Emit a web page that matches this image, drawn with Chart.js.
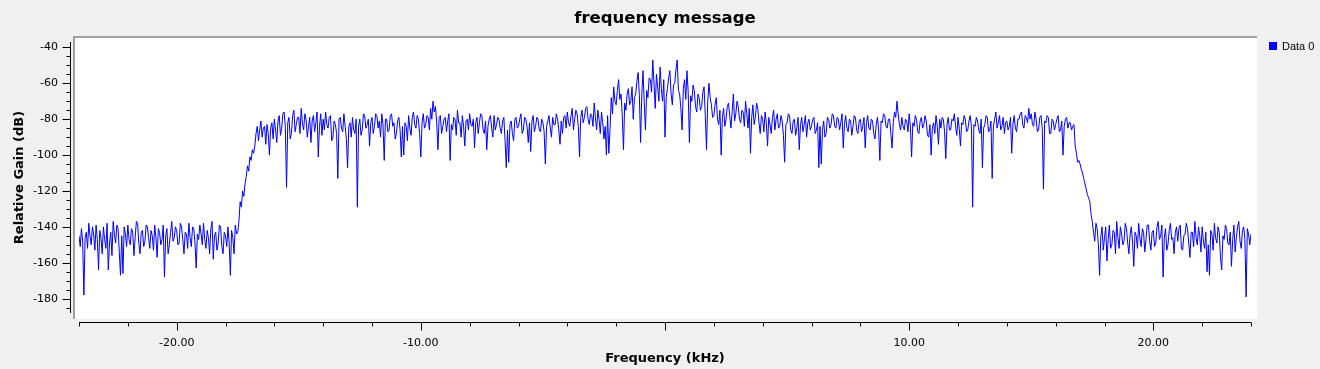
<!DOCTYPE html>
<html>
<head>
<meta charset="utf-8">
<title>frequency message</title>
<script src="https://cdn.jsdelivr.net/npm/chart.js@4.4.1/dist/chart.umd.min.js"></script>
<style>
  html, body { margin: 0; padding: 0; background: #f0f0f0; }
  #myChart { display: block; }
</style>
</head>
<body>
<canvas id="myChart" width="1320" height="369"></canvas>
<script>
'use strict';

// ====================== DATA ======================//
let chartTitle = 'frequency message';
let seriesName = 'Data 0';
let xAxisTitle = 'Frequency (kHz)';
let yAxisTitle = 'Relative Gain (dB)';

// frequency bins, kHz
let freqStartKHz = -24;
let freqStepKHz = 0.05;

// gain in dB, one value per 0.05 kHz
// -24.00 .. -17.05 kHz
let gainLowStop = [
  -145, -151, -141, -148, -178, -146, -143, -152, -138, -145, -150, -140, -144, -153, -139, -147, -164, -142, -146, -155,
  -140, -147, -152, -138, -164, -149, -143, -156, -137, -144, -149, -139, -141, -154, -167, -145, -166, -140, -144, -151,
  -139, -147, -150, -141, -143, -156, -146, -137, -138, -149, -155, -143, -142, -151, -148, -139, -140, -146, -152, -142,
  -145, -153, -139, -146, -157, -141, -143, -150, -147, -139, -168, -145, -141, -155, -150, -143, -137, -148, -146, -140,
  -142, -150, -149, -138, -140, -147, -155, -143, -144, -152, -138, -146, -151, -140, -141, -149, -163, -144, -147, -139,
  -144, -150, -138, -147, -152, -142, -146, -155, -141, -137, -158, -145, -143, -153, -149, -139, -140, -151, -155, -143,
  -145, -151, -140, -149, -167, -142, -146, -155, -139, -144, -143, -137, -126, -129, -120, -123, -116, -112, -106, -109
];
// -17.00 .. -2.05 kHz
let gainLowBand = [
  -101, -103, -97, -99, -95, -88, -84, -92, -86, -81, -90, -85, -84, -94, -83, -88, -100, -85, -82, -91,
  -80, -86, -93, -81, -78, -89, -85, -77, -76, -84, -118, -82, -79, -91, -88, -78, -75, -87, -83, -79,
  -79, -88, -74, -82, -86, -77, -80, -90, -84, -79, -93, -81, -78, -87, -82, -76, -101, -84, -77, -89,
  -80, -86, -76, -83, -85, -79, -78, -92, -90, -81, -83, -88, -113, -80, -79, -85, -87, -77, -84, -91,
  -107, -84, -82, -90, -79, -86, -88, -80, -129, -84, -80, -89, -86, -77, -78, -85, -83, -80, -95, -82,
  -79, -88, -84, -77, -78, -85, -81, -90, -77, -83, -103, -80, -80, -87, -86, -78, -77, -84, -82, -91,
  -88, -81, -79, -86, -101, -84, -100, -82, -84, -92, -78, -85, -89, -79, -76, -83, -85, -78, -80, -88,
  -101, -82, -77, -85, -83, -78, -79, -86, -74, -80, -70, -76, -73, -82, -97, -79, -78, -88, -84, -80,
  -79, -87, -81, -77, -103, -83, -86, -79, -80, -89, -75, -82, -82, -90, -78, -84, -95, -81, -80, -86,
  -77, -83, -84, -80, -96, -82, -79, -88, -82, -77, -78, -86, -88, -81, -97, -84, -80, -78, -85, -90,
  -78, -86, -83, -79, -80, -85, -88, -81, -79, -92, -107, -86, -104, -83, -81, -88, -92, -80, -79, -85,
  -84, -80, -77, -88, -86, -79, -80, -84, -93, -82, -98, -81, -78, -87, -84, -79, -80, -86, -87, -80,
  -82, -87, -105, -84, -81, -78, -85, -90, -79, -83, -83, -77, -80, -86, -94, -81, -88, -79, -78, -85,
  -76, -82, -84, -78, -74, -86, -80, -75, -77, -84, -101, -79, -75, -82, -79, -74, -73, -80, -83, -77,
  -78, -84, -71, -79, -86, -75, -80, -88, -76, -82, -91, -84, -100, -78, -99, -85, -68, -77, -62, -70
];
// -2.00 .. 1.95 kHz
let gainCentre = [
  -72, -64, -58, -69, -66, -78, -97, -71, -75, -66, -63, -72, -70, -62, -80, -68, -66, -59, -54, -67,
  -93, -66, -53, -71, -86, -64, -68, -57, -58, -65, -47, -60, -74, -55, -62, -70, -51, -63, -70, -58,
  -90, -68, -63, -57, -53, -66, -72, -61, -60, -52, -47, -64, -66, -74, -86, -63, -58, -69, -53, -65,
  -93, -67, -70, -61, -64, -73, -76, -66, -68, -75, -73, -65, -62, -78, -97, -70, -60, -68, -72, -79
];
// 2.00 .. 16.95 kHz
let gainHighBand = [
  -78, -72, -68, -80, -83, -75, -100, -79, -74, -84, -80, -73, -71, -78, -85, -76, -66, -81, -77, -70,
  -73, -80, -82, -75, -76, -84, -70, -77, -85, -74, -99, -79, -72, -83, -79, -71, -74, -82, -88, -78,
  -80, -87, -76, -82, -95, -79, -83, -88, -79, -75, -86, -80, -77, -85, -84, -78, -81, -89, -104, -83,
  -82, -77, -78, -86, -88, -81, -80, -89, -85, -79, -97, -83, -79, -87, -83, -78, -90, -82, -80, -86,
  -84, -80, -79, -88, -86, -82, -107, -84, -105, -86, -81, -90, -88, -79, -80, -85, -83, -77, -78, -84,
  -85, -79, -80, -86, -82, -77, -96, -83, -78, -85, -87, -80, -81, -89, -84, -78, -79, -86, -88, -81,
  -80, -87, -84, -79, -96, -82, -78, -85, -86, -80, -81, -88, -91, -83, -79, -86, -103, -81, -82, -77,
  -78, -84, -85, -80, -80, -88, -96, -82, -76, -79, -70, -77, -83, -86, -79, -84, -86, -80, -81, -87,
  -77, -84, -101, -82, -84, -78, -80, -87, -88, -81, -79, -85, -83, -78, -81, -89, -90, -83, -100, -85,
  -82, -88, -78, -84, -94, -80, -85, -79, -80, -87, -102, -83, -79, -86, -86, -80, -81, -77, -84, -89,
  -79, -85, -95, -82, -83, -78, -80, -87, -86, -81, -78, -84, -129, -83, -84, -79, -81, -86, -88, -80,
  -107, -85, -83, -78, -79, -87, -86, -81, -113, -84, -80, -76, -85, -82, -78, -86, -84, -79, -88, -82,
  -81, -86, -84, -79, -99, -83, -78, -85, -87, -80, -80, -77, -76, -83, -85, -78, -79, -82, -74, -80,
  -77, -83, -84, -76, -80, -87, -86, -79, -78, -85, -119, -81, -82, -78, -79, -88, -88, -80, -81, -86,
  -83, -80, -78, -87, -86, -81, -100, -84, -80, -79, -85, -82, -82, -86, -84, -83, -95, -99, -104, -103
];
// 17.00 .. 24.00 kHz
let gainHighStop = [
  -105, -108, -110, -113, -116, -119, -122, -124, -126, -133, -137, -143, -148, -138, -141, -150, -167, -145, -140, -153,
  -146, -140, -159, -147, -139, -152, -150, -142, -143, -155, -137, -146, -152, -140, -144, -150, -148, -138, -141, -149,
  -155, -144, -140, -149, -162, -143, -145, -152, -138, -146, -151, -141, -143, -154, -147, -139, -139, -148, -153, -143,
  -142, -151, -149, -140, -137, -147, -145, -139, -168, -146, -141, -153, -150, -142, -138, -147, -146, -155, -143, -140,
  -148, -141, -139, -152, -153, -145, -144, -138, -141, -149, -157, -143, -143, -151, -137, -146, -150, -140, -145, -154,
  -140, -148, -152, -143, -165, -150, -167, -142, -144, -153, -138, -146, -149, -140, -143, -157, -164, -145, -147, -139,
  -141, -149, -150, -143, -162, -147, -139, -154, -146, -140, -137, -148, -152, -142, -140, -147, -179, -141, -144, -150,
  -144
];

// ====================== BUILD POINTS ======================//
let gainDb = gainLowStop.concat(gainLowBand, gainCentre, gainHighBand, gainHighStop);
let points = [];
for (let i = 0; i < gainDb.length; i++) {
  let f = Math.round((freqStartKHz + i * freqStepKHz) * 100) / 100;
  points.push({ x: f, y: gainDb[i] });
}

// ====================== PLUGIN: frame, axes, title, legend ======================//
let plotFrame = {
  id: 'plotFrame',
  beforeDraw(chart) {
    let ctx = chart.ctx;
    let a = chart.chartArea;
    ctx.save();
    ctx.fillStyle = '#f0f0f0';
    ctx.fillRect(0, 0, chart.width, chart.height);
    // white plot canvas, a bit bigger than the axes range
    ctx.fillStyle = '#ffffff';
    ctx.fillRect(a.left - 6, a.top - 6, a.right - a.left + 12, a.bottom - a.top + 12);
    ctx.fillStyle = '#a0a0a0';
    ctx.fillRect(a.left - 6, a.top - 6, a.right - a.left + 12, 2);
    ctx.fillRect(a.left - 6, a.top - 6, 2, a.bottom - a.top + 12);
    ctx.restore();
  },
  afterDraw(chart) {
    let ctx = chart.ctx;
    let a = chart.chartArea;
    let xs = chart.scales.x;
    let ys = chart.scales.y;
    let axisX = a.left - 8.5;
    let axisY = a.bottom + 9.5;
    ctx.save();
    ctx.strokeStyle = '#000000';
    ctx.lineWidth = 1;
    ctx.beginPath();
    // y axis
    ctx.moveTo(axisX, ys.top);
    ctx.lineTo(axisX, ys.bottom);
    for (let v = -185; v <= -40; v += 5) {
      let y = Math.round(ys.getPixelForValue(v)) + 0.5;
      let len = v % 20 === 0 ? 8 : 4;
      ctx.moveTo(axisX - len, y);
      ctx.lineTo(axisX, y);
    }
    // x axis
    ctx.moveTo(xs.left, axisY);
    ctx.lineTo(xs.right, axisY);
    for (let v = -24; v <= 24; v += 2) {
      let x = Math.round(xs.getPixelForValue(v)) + 0.5;
      let len = v % 10 === 0 ? 8 : 4;
      ctx.moveTo(x, axisY);
      ctx.lineTo(x, axisY + len);
    }
    ctx.stroke();

    // title
    ctx.fillStyle = '#000000';
    ctx.font = 'bold 16.5px "DejaVu Sans"';
    ctx.textAlign = 'center';
    ctx.textBaseline = 'middle';
    ctx.fillText(chartTitle, (a.left + a.right) / 2, 19);

    // legend
    ctx.fillStyle = '#0000ff';
    ctx.fillRect(a.right + 18, a.top, 8, 8);
    ctx.fillStyle = '#000000';
    ctx.font = '11px "Liberation Sans"';
    ctx.textAlign = 'left';
    ctx.fillText(seriesName, a.right + 31, a.top + 4.5);
    ctx.restore();
  }
};

// ====================== CHART ======================//
Chart.defaults.font.family = '"DejaVu Sans", sans-serif';
Chart.defaults.font.size = 11;
Chart.defaults.color = '#000000';

let chartObject = {
  type: 'line',
  data: {
    datasets: [{
      label: seriesName,
      data: points,
      borderColor: '#0000ff',
      borderWidth: 1,
      pointRadius: 0,
      fill: false,
      tension: 0
    }]
  },
  options: {
    responsive: false,
    animation: false,
    devicePixelRatio: 1,
    layout: { padding: { top: 42, right: 69, bottom: 0, left: 0 } },
    plugins: {
      legend: { display: false },
      title: { display: false },
      tooltip: { enabled: false }
    },
    scales: {
      x: {
        type: 'linear',
        min: -24,
        max: 24,
        grid: { display: false, drawTicks: false },
        border: { display: false },
        ticks: {
          stepSize: 10,
          includeBounds: false,
          padding: 24,
          maxRotation: 0,
          autoSkip: false,
          // the reference leaves the zero tick without a label
          callback: (v) => (v === 0 ? '' : v.toFixed(2))
        },
        title: {
          display: true,
          text: xAxisTitle,
          font: { size: 13, weight: 'bold' },
          padding: { top: 0, bottom: 3 }
        },
        afterFit(scale) { scale.height = 56; }
      },
      y: {
        type: 'linear',
        min: -188,
        max: -37,
        grid: { display: false, drawTicks: false },
        border: { display: false },
        ticks: {
          stepSize: 20,
          includeBounds: false,
          padding: 21,
          callback: (v) => v.toFixed(0)
        },
        title: {
          display: true,
          text: yAxisTitle,
          font: { size: 13, weight: 'bold' },
          padding: { top: 12, bottom: 0 }
        },
        afterFit(scale) { scale.width = 79; }
      }
    }
  },
  plugins: [plotFrame]
};

let ctx = document.getElementById('myChart').getContext('2d');
let myChart = new Chart(ctx, chartObject);
</script>
</body>
</html>
